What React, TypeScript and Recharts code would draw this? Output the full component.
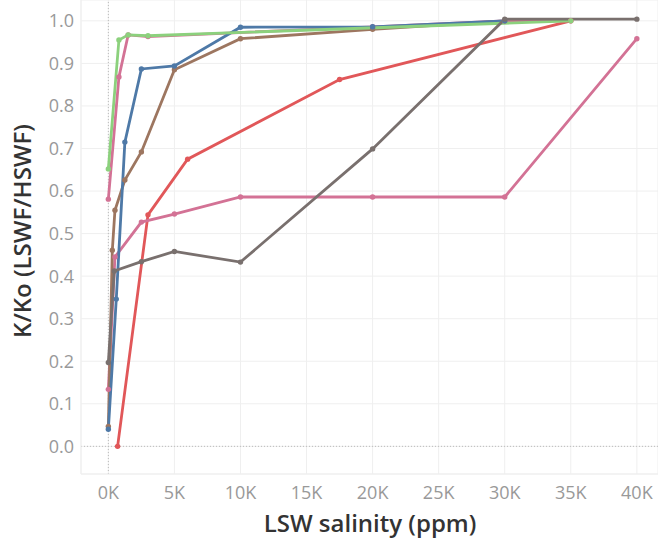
import { CartesianGrid, Line, LineChart, ReferenceLine, XAxis, YAxis } from 'recharts'

// salinity (ppm) and K/Ko, one pair of arrays per curve
const blueX = [0, 600, 1250, 2500, 5000, 10000, 20000, 30000]
const blueY = [0.04, 0.346, 0.715, 0.887, 0.894, 0.985, 0.986, 1.0]

const brownX = [0, 300, 500, 1250, 2500, 5000, 10000, 20000, 30000]
const brownY = [0.047, 0.461, 0.555, 0.626, 0.692, 0.885, 0.958, 0.98, 1.0]

const greenX = [0, 800, 1500, 3000, 35000]
const greenY = [0.652, 0.955, 0.967, 0.965, 1.0]

const pinkHighX = [0, 800, 1500, 3000, 20000, 30000, 35000]
const pinkHighY = [0.581, 0.868, 0.967, 0.963, 0.986, 1.0, 1.0]

const pinkLowX = [0, 500, 2500, 5000, 10000, 20000, 30000, 40000]
const pinkLowY = [0.134, 0.445, 0.527, 0.546, 0.586, 0.586, 0.586, 0.958]

const redX = [700, 3000, 6000, 17500, 35000]
const redY = [0, 0.544, 0.675, 0.862, 1.0]

const grayX = [0, 450, 2500, 5000, 10000, 20000, 30000, 40000]
const grayY = [0.197, 0.412, 0.434, 0.458, 0.433, 0.699, 1.004, 1.004]

const xTicks = [0, 5000, 10000, 15000, 20000, 25000, 30000, 35000, 40000]
const yTicks = [0, 0.1, 0.2, 0.3, 0.4, 0.5, 0.6, 0.7, 0.8, 0.9, 1.0]

const pts = (xs: number[], ys: number[]) => xs.map((x, i) => ({ x, y: ys[i] }))

const series = [
  { key: 'red', color: '#e15759', data: pts(redX, redY) },
  { key: 'pinkLow', color: '#d37295', data: pts(pinkLowX, pinkLowY) },
  { key: 'pinkHigh', color: '#d37295', data: pts(pinkHighX, pinkHighY) },
  { key: 'brown', color: '#9d7660', data: pts(brownX, brownY) },
  { key: 'blue', color: '#4e79a7', data: pts(blueX, blueY) },
  { key: 'green', color: '#8cd17d', data: pts(greenX, greenY) },
  { key: 'gray', color: '#79706e', data: pts(grayX, grayY) },
]

const FONT = '"Open Sans", "Noto Sans", sans-serif'
const TICK = { fontSize: 18, fill: '#999', fontFamily: FONT }
const TITLE = { fontSize: 24, fill: '#333', fontFamily: FONT, fontWeight: 600 }

export default function App() {
  return (
    <div style={{ position: 'absolute', left: 0, top: 0 }}>
      <LineChart width={658} height={542} margin={{ top: 0, right: 0, left: 0, bottom: 0 }}>
        <CartesianGrid stroke="#efefef" />
        <XAxis
          type="number"
          dataKey="x"
          domain={[-2070, 41600]}
          ticks={xTicks}
          tickFormatter={(v: number) => `${v / 1000}K`}
          tick={TICK}
          tickLine={false}
          axisLine={{ stroke: '#efefef' }}
          tickMargin={6}
          height={68}
          allowDataOverflow
          label={() => (
            <text x={370} y={522} textAnchor="middle" dominantBaseline="central" style={TITLE}>
              LSW salinity (ppm)
            </text>
          )}
        />
        <YAxis
          type="number"
          dataKey="y"
          domain={[-0.065, 1.049]}
          ticks={yTicks}
          tickFormatter={(v: number) => v.toFixed(1)}
          tick={TICK}
          tickLine={false}
          axisLine={{ stroke: '#efefef' }}
          tickMargin={1}
          width={81}
          allowDataOverflow
          label={() => (
            <text
              x={21}
              y={231}
              transform="rotate(-90 21 231)"
              textAnchor="middle"
              dominantBaseline="central"
              style={TITLE}
            >
              K/Ko (LSWF/HSWF)
            </text>
          )}
        />
        <ReferenceLine x={0} stroke="#bbb" strokeDasharray="1 2" />
        <ReferenceLine y={0} stroke="#bbb" strokeDasharray="1 2" />
        {series.map((s) => (
          <Line
            key={s.key}
            data={s.data}
            dataKey="y"
            type="linear"
            stroke={s.color}
            strokeWidth={2.8}
            dot={{ r: 2.7, fill: s.color, stroke: s.color, strokeWidth: 0 }}
            activeDot={false}
            isAnimationActive={false}
          />
        ))}
      </LineChart>
    </div>
  )
}
